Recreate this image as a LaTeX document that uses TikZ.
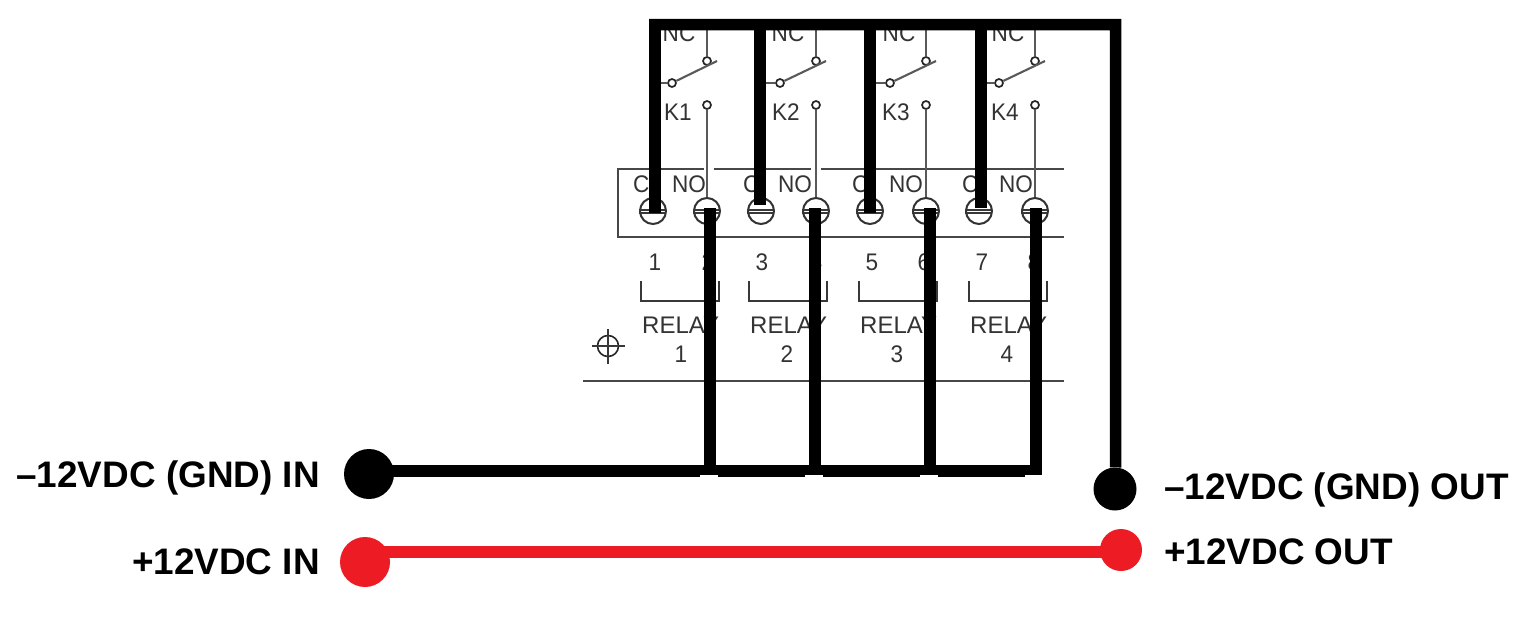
\documentclass[tikz,border=0pt]{standalone}
\usepackage{fontspec}
\setmainfont{Liberation Sans}
\tikzset{
  ink/.style={draw=black!78,line width=1.6pt},
  thin ink/.style={draw=black!65,line width=2.1pt},
  frame/.style={draw=black!72,line width=2.2pt},
  term/.style={circle,draw=black!85,line width=1.7pt,fill=white,minimum size=8pt,inner sep=0pt},
  screw/.style={circle,draw=black!80,line width=2pt,fill=white,minimum size=26pt,inner sep=0pt},
  small/.style={text=black!80,inner sep=0pt,font=\fontsize{24}{24}\selectfont,xscale=.94},
  wire/.style={draw=black,line width=11.5pt,line cap=butt,line join=miter},
  redwire/.style={draw=redw,line width=11.5pt},
  blackdot/.style={circle,fill=black,inner sep=0pt},
  reddot/.style={circle,fill=redw,inner sep=0pt},
  biglabel/.style={inner sep=0pt,font=\fontsize{36.9}{36.9}\selectfont\bfseries},
}
\definecolor{redw}{HTML}{ED1C24}
\begin{document}
\begin{tikzpicture}[x=1pt,y=-1pt]
\useasboundingbox (0,0) rectangle (1524,621);
% terminal block frame
\coordinate (fa) at (704,169);
\coordinate (fb) at (618,169);
\coordinate (fc) at (618,237);
\coordinate (fd) at (1064,237);
\draw[frame] (fa) -- (fb) -- (fc) -- (fd);
\coordinate (g1) at (714,169); \coordinate (g2) at (811,169);
\coordinate (g3) at (821,169); \coordinate (g4) at (1064,169);
\draw[frame] (g1) -- (g2);
\draw[frame] (g3) -- (g4);
\coordinate (ba) at (583,381); \coordinate (bb) at (1064,381);
\draw[frame] (ba) -- (bb);
% target symbol
\node[circle,draw=black!85,line width=1.6pt,minimum size=21pt,inner sep=0pt] (tg) at (608,346) {};
\coordinate (tl) at (592,346); \coordinate (tr) at (625,346);
\coordinate (tt) at (608,329); \coordinate (tb) at (608,364);
\draw[ink] (tl) -- (tr);
\draw[ink] (tt) -- (tb);
% relay groups
\foreach \n/\c/\o/\l/\bl/\numa/\numb/\nc/\k/\rl/\rn/\nl/\nn/\no/\cx in {
  1/653/707/672/641/1/2/679/K1/642/681/655/708/689/633,
  2/761/816/780/749/3/4/788/K2/750/787/762/816/795/743,
  3/870/926/890/859/5/6/899/K3/860/897/872/924/906/852,
  4/979/1035/999/969/7/8/1008/K4/970/1007/982/1034/1016/962}{
  \coordinate (s\n) at (\o,30);
  \node[small] (ncl\n) at (\nc,33.5) {NC};
  \node[small,anchor=west] (kl\n) at (\l-8,112) {\k};
  \node[small] (nol\n) at (\no,184) {NO};
  \node[small,anchor=west] (cl\n) at (\cx,184) {C};
  \node[small] (na\n) at (\nl,262) {\numa};
  \node[small] (nb\n) at (\nn,262) {\numb};
  \node[small,xscale=1.064,anchor=west] (rel\n) at (\rl,325) {RELAY};
  \node[small] (rnum\n) at (\rn,354) {\n};
  % bracket
  \coordinate (b1\n) at (\bl,281); \coordinate (b2\n) at (\bl,301);
  \coordinate (b3\n) at (\bl+78,301); \coordinate (b4\n) at (\bl+78,281);
  \draw[ink,line width=2.2pt] (b1\n) -- (b2\n) -- (b3\n) -- (b4\n);
  % screws
  \node[screw] (cs\n) at (\c,211) {};
  \node[screw] (os\n) at (\o,211) {};
  \draw[ink] (cs\n.west) ++(0,-1) -- ++(26,0);
  \draw[ink] (cs\n.west) ++(0,2) -- ++(26,0);
  \draw[ink] (os\n.west) ++(0,-1) -- ++(26,0);
  \draw[ink] (os\n.west) ++(0,2) -- ++(26,0);
  % contacts
  \node[term] (tc\n) at (\o,61) {};
  \node[term] (tl\n) at (\l,83) {};
  \node[term] (tn\n) at (\o,105) {};
  \coordinate (tip\n) at (\o+10,61);
  \coordinate (com\n) at (\l-18,83);
  \draw[thin ink] (s\n) -- (tc\n);
  \draw[thin ink] (com\n) -- (tl\n);
  \draw[thin ink] (tl\n) -- (tip\n);
  \draw[thin ink] (tn\n) -- (os\n.north);
}
% black overlay wires
\node[blackdot,minimum size=50pt] (gi) at (369,474) {};
\node[blackdot,minimum size=43pt] (go) at (1115,489) {};
\node[reddot,minimum size=50pt] (pi) at (365,562) {};
\node[reddot,minimum size=42pt] (po) at (1121,550) {};
\coordinate (tl0) at (649,24.5);
\coordinate (tr0) at (1115.5,24.5);
\coordinate (cap1) at (655,213); \coordinate (cap2) at (760,205);
\coordinate (cap3) at (870,213); \coordinate (cap4) at (981,208);
\coordinate (top1) at (655,24.5); \coordinate (top2) at (760,24.5);
\coordinate (top3) at (870,24.5); \coordinate (top4) at (981,24.5);
\foreach \n in {1,2,3,4}{ \draw[wire] (top\n) -- (cap\n); }
\draw[wire] (tl0) -- (tr0) -- (tr0 |- go.north) -- (go);
\coordinate (hr) at (1041,471);
\coordinate (h1) at (710,471); \coordinate (h2) at (815,471);
\coordinate (h3) at (930,471); \coordinate (h4) at (1036,471);
\coordinate (v1) at (710,208); \coordinate (v2) at (815,208);
\coordinate (v3) at (930,208); \coordinate (v4) at (1036,208);
\foreach \n in {1,2,3}{ \draw[wire] (v\n) -- (h\n); }
\draw[wire] (v4) -- (1036,476.75);
\draw[wire] (gi.center |- h1) -- (hr);
% small joints on the underside of the ground wire
\fill[white] (700,475) rectangle (718,477.5);
\fill[white] (805,475) rectangle (823,477.5);
\fill[white] (920,475) rectangle (938,477.5);
\fill[white] (1025,474.5) rectangle (1042,477.5);
\draw[redwire] (pi.center |- 0,552) -- (po.center |- 0,552);
% labels
\node[biglabel,anchor=base east] (l1) at (320,487) {–12VDC (GND) IN};
\node[biglabel,anchor=base east] (l2) at (320,574) {+12VDC IN};
\node[biglabel,anchor=base west] (l3) at (1164,499) {–12VDC (GND) OUT};
\node[biglabel,anchor=base west] (l4) at (1164,564) {+12VDC OUT};
\end{tikzpicture}
\end{document}
